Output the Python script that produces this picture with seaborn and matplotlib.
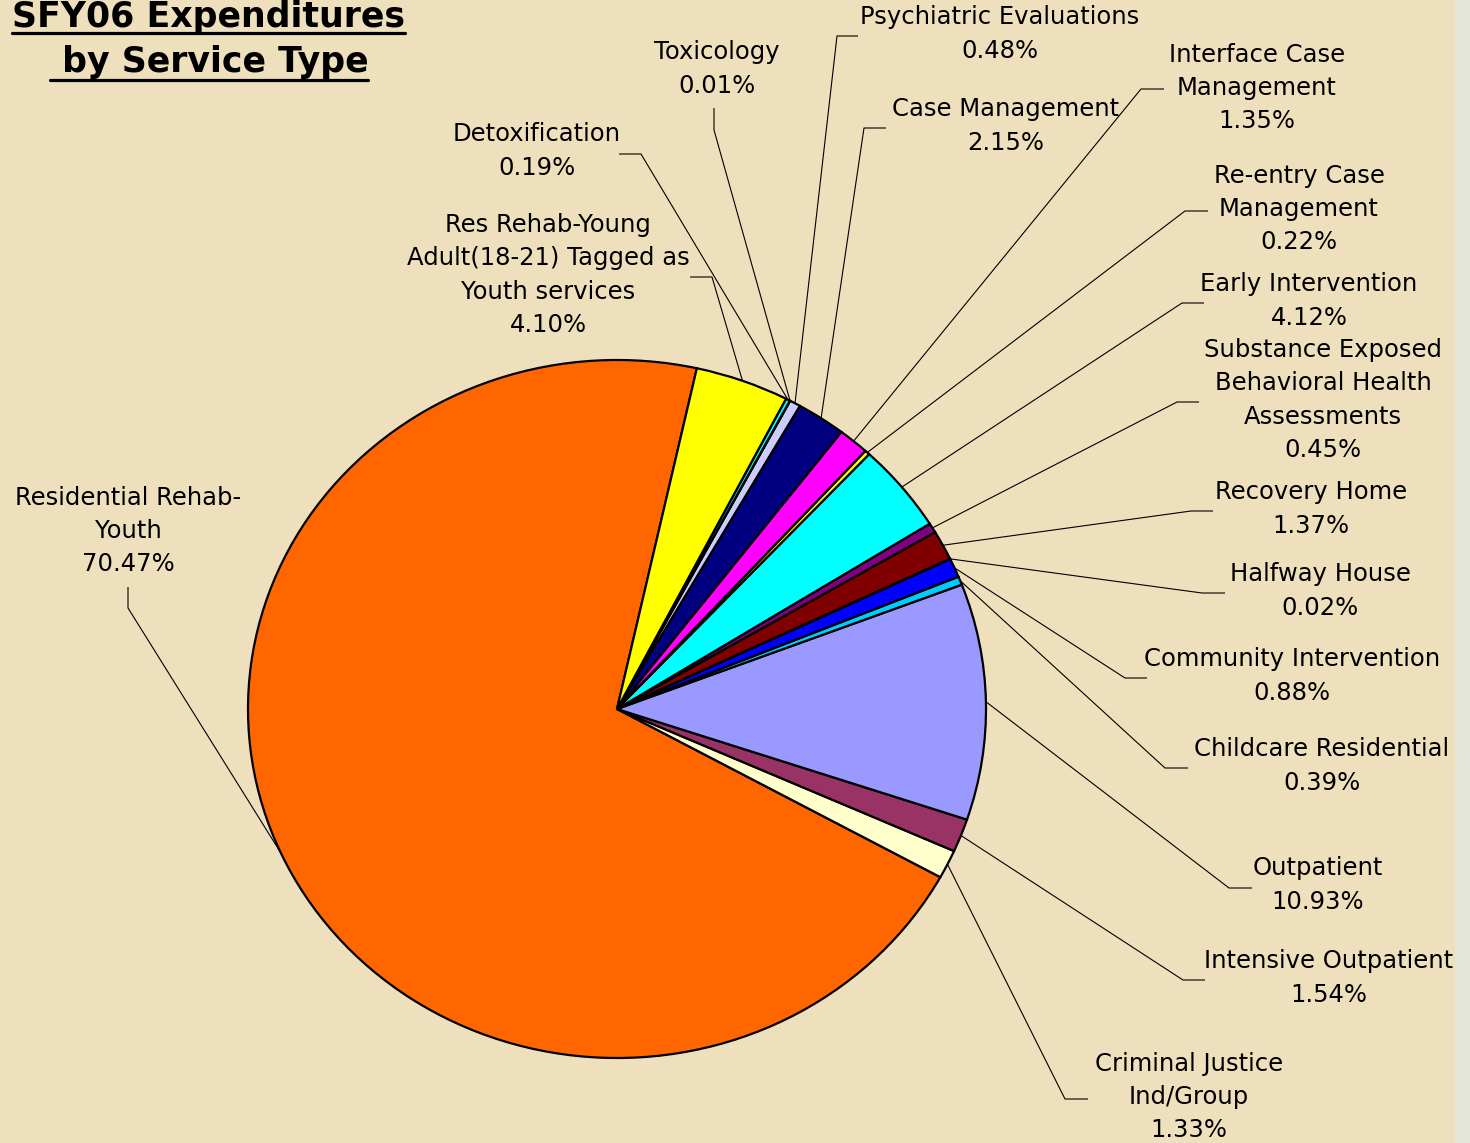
import numpy as np
import matplotlib
matplotlib.use("Agg")
import matplotlib.pyplot as plt
import seaborn as sns
from matplotlib.lines import Line2D
from matplotlib.patches import Rectangle

# ---------------- data ----------------
categories = [
    "Residential Rehab-\nYouth",
    "Criminal Justice\nInd/Group",
    "Intensive Outpatient",
    "Outpatient",
    "Childcare Residential",
    "Community Intervention",
    "Halfway House",
    "Recovery Home",
    "Substance Exposed\nBehavioral Health\nAssessments",
    "Early Intervention",
    "Re-entry Case\nManagement",
    "Interface Case\nManagement",
    "Case Management",
    "Psychiatric Evaluations",
    "Toxicology",
    "Detoxification",
    "Res Rehab-Young\nAdult(18-21) Tagged as\nYouth services",
]
values = [70.47, 1.33, 1.54, 10.93, 0.39, 0.88, 0.02, 1.37, 0.45,
          4.12, 0.22, 1.35, 2.15, 0.48, 0.01, 0.19, 4.10]

# ---------------- styles ----------------
slice_colors = ["#FF6600", "#FFFFCC", "#993366", "#9999FF", "#00CCFF",
                "#0000FF", "#008080", "#800000", "#800080", "#00FFFF",
                "#FFFF00", "#FF00FF", "#000080", "#CCCCFF", "#CCFFFF",
                "#00FFFF", "#FFFF00"]

# ---------------- layout (pixels) ----------------
W, H, DPI = 1470, 1143, 100
CX, CY, RX, RY = 617, 709, 369, 349
# label block centre, leader elbow, leader end at label
label_centre = [(128, 531), (1189, 1097), (1329, 978), (1318, 885), (1322, 766),
                (1292, 676), (1320, 591), (1311, 509), (1323, 400), (1309, 301),
                (1299, 209), (1257, 88), (1006, 126), (1000, 34), (717, 69),
                (537, 151), (548, 275)]
leader_elbow = [(128, 608), (1065, 1099), (1183, 980), (1229, 888), (1165, 768),
                (1125, 678), (1202, 593), (1191, 511), (1177, 402), (1182, 303),
                (1185, 211), (1141, 89), (864, 128), (837, 36), (714, 130),
                (641, 154), (712, 277)]
leader_end = [(128, 587), (1088, 1099), (1205, 980), (1252, 888), (1188, 768),
              (1147, 678), (1225, 593), (1213, 511), (1199, 402), (1204, 303),
              (1208, 211), (1164, 89), (886, 128), (858, 36), (714, 108),
              (619, 154), (690, 277)]

BG = "#EFE0BD"

sns.set_theme(style="white")
plt.rcParams["font.family"] = ["DejaVu Sans"]

fig = plt.figure(figsize=(W / DPI, H / DPI), dpi=DPI)
fig.patch.set_facecolor(BG)
fig.add_artist(Rectangle((1455 / W, 0), 15 / W, 1, transform=fig.transFigure,
                         facecolor="#E4E6DA", edgecolor="none", zorder=-5))

ax = fig.add_axes([0, 0, 1, 1])


def to_data(p):
    return (p[0] - CX) / RX, (CY - p[1]) / RY


wedges, _ = ax.pie(values, colors=sns.color_palette(slice_colors),
                   startangle=77.5, counterclock=True, radius=1,
                   wedgeprops=dict(edgecolor="black", linewidth=1.6))
ax.set_aspect("auto")
ax.set_xlim(-CX / RX, (W - CX) / RX)
ax.set_ylim((CY - H) / RY, CY / RY)
ax.axis("off")

for w, cat, val, c, el, en in zip(wedges, categories, values,
                                  label_centre, leader_elbow, leader_end):
    mid = np.deg2rad((w.theta1 + w.theta2) / 2)
    ex, ey = np.cos(mid), np.sin(mid)
    elx, ely = to_data(el)
    enx, eny = to_data(en)
    ax.plot([ex, elx, enx], [ey, ely, eny], color="black", lw=0.8,
            solid_capstyle="butt", zorder=1)
    tx, ty = to_data(c)
    ax.text(tx, ty, f"{cat}\n{val:.2f}%", ha="center", va="center",
            multialignment="center", fontsize=17.5, linespacing=1.49,
            color="black")

# title with underlines
t1 = fig.text(208 / W, 1 - 27 / H, "SFY06 Expenditures", ha="center",
              va="baseline", fontsize=25, fontweight="bold", color="black")
t2 = fig.text(209 / W, 1 - 72 / H, " by Service Type", ha="center",
              va="baseline", fontsize=25, fontweight="bold", color="black")
fig.canvas.draw()
r = fig.canvas.get_renderer()
for t, uy in ((t1, 33), (t2, 80)):
    bb = t.get_window_extent(r)
    fig.add_artist(Line2D([bb.x0 / W, bb.x1 / W], [1 - uy / H, 1 - uy / H],
                          transform=fig.transFigure, color="black", lw=2.3))

fig.savefig("out.png", dpi=DPI, facecolor=fig.get_facecolor())
